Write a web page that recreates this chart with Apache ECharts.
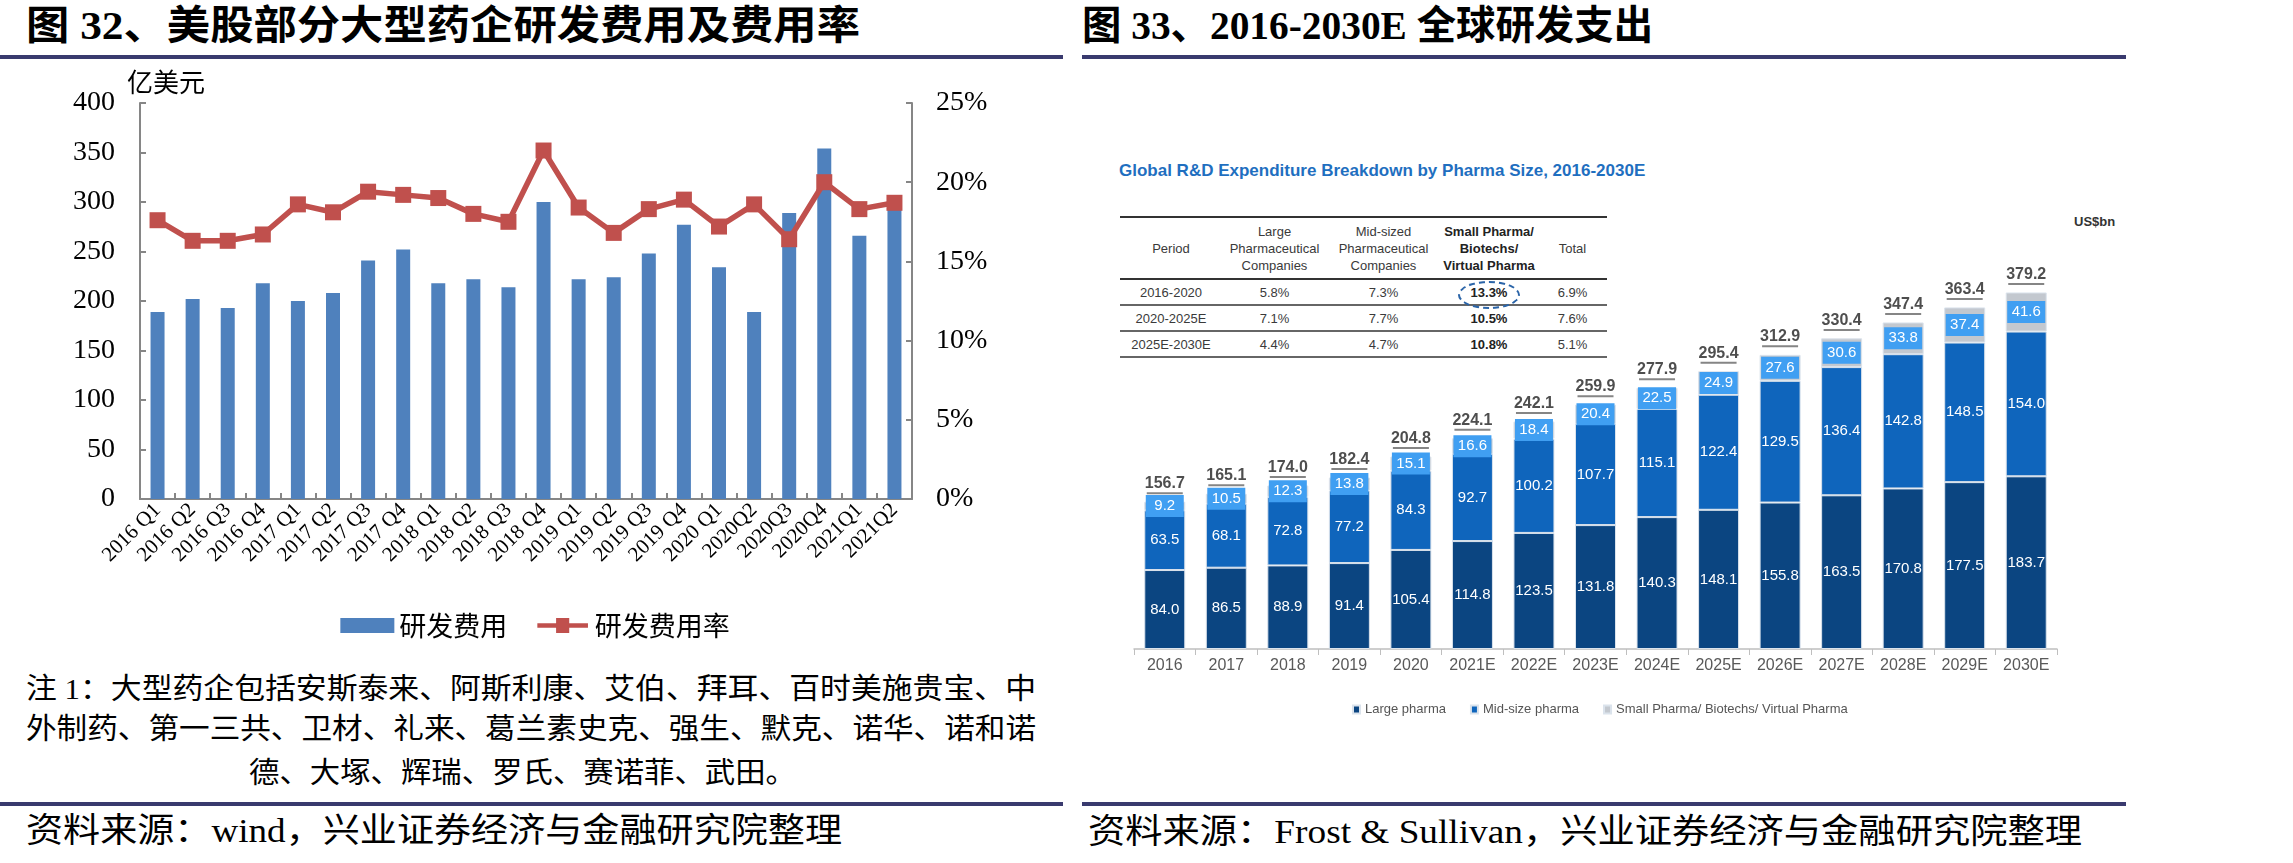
<!DOCTYPE html>
<html lang="zh-CN">
<head>
<meta charset="utf-8">
<title>研发费用</title>
<script src="https://cdn.jsdelivr.net/npm/echarts@6/dist/echarts.min.js"></script>
<style>
  html, body { margin: 0; padding: 0; background: #fff; }
  body { position: relative; width: 2293px; height: 863px; overflow: hidden; }
  .txt { position: absolute; white-space: nowrap; line-height: 1; transform-origin: 0 50%;
         font-family: "Liberation Serif", "Noto Sans CJK SC", serif; color: #000; }
  .ttl { font-size: 40px; font-weight: bold; }
  .note { font-size: 29px; }
  .src { font-size: 34px; }
  .rule { position: absolute; height: 4px; background: #393a6e; }
  #left { position: absolute; left: 0; top: 60px; width: 1070px; height: 600px; }
  #right { position: absolute; left: 1085px; top: 60px; width: 1208px; height: 740px; }
  .sans { font-family: "Liberation Sans", Arial, sans-serif; }
  #rtitle { position: absolute; left: 1119px; top: 161px; font-size: 17px; font-weight: bold; color: #1f6fc0; white-space: nowrap; }
  #unit { position: absolute; left: 2074px; top: 214px; font-size: 13px; font-weight: bold; color: #333; }
  #tbl { position: absolute; left: 1120px; top: 216px; width: 487px; border-collapse: collapse; table-layout: fixed;
         font-size: 13px; color: #3a3a3a; }
  #tbl th { font-weight: normal; line-height: 17px; height: 60px; border-top: 2px solid #333; border-bottom: 2px solid #333; padding: 0; }
  #tbl th.b, #tbl td.b { font-weight: bold; color: #222; }
  #tbl td { height: 24px; text-align: center; border-bottom: 2px solid #666; padding: 0; }
  #ring { position: absolute; left: 1458px; top: 281px; width: 58px; height: 24px; border: 2px dashed #2a64a8; border-radius: 50%; }
</style>
</head>
<body>
<div class="txt ttl" style="left:26px;top:6px" data-w="834">图 32、美股部分大型药企研发费用及费用率</div>
<div class="txt ttl" style="left:1082px;top:6px" data-w="571">图 33、2016-2030E 全球研发支出</div>
<div class="rule" style="left:0;top:55px;width:1063px"></div>
<div class="rule" style="left:1082px;top:55px;width:1044px"></div>

<div id="left"></div>

<div id="rtitle" class="sans">Global R&amp;D Expenditure Breakdown by Pharma Size, 2016-2030E</div>
<div id="unit" class="sans">US$bn</div>
<table id="tbl" class="sans">
  <colgroup><col style="width:102px"><col style="width:105px"><col style="width:113px"><col style="width:98px"><col style="width:69px"></colgroup>
  <thead><tr id="thead"></tr></thead>
  <tbody id="tbody"></tbody>
</table>
<div id="ring"></div>
<div id="right"></div>

<div class="txt note" style="left:26px;top:675px" data-w="1010">注 1：大型药企包括安斯泰来、阿斯利康、艾伯、拜耳、百时美施贵宝、中</div>
<div class="txt note" style="left:26px;top:715px" data-w="1010">外制药、第一三共、卫材、礼来、葛兰素史克、强生、默克、诺华、诺和诺</div>
<div class="txt note" style="left:249px;top:759px" data-w="547">德、大塚、辉瑞、罗氏、赛诺菲、武田。</div>

<div class="rule" style="left:0;top:802px;width:1063px"></div>
<div class="rule" style="left:1082px;top:802px;width:1044px"></div>
<div class="txt src" style="left:26px;top:814px" data-w="816">资料来源：wind，兴业证券经济与金融研究院整理</div>
<div class="txt src" style="left:1088px;top:815px" data-w="994">资料来源：Frost &amp; Sullivan，兴业证券经济与金融研究院整理</div>

<script>
// 图32 数据
const quarters = ['2016 Q1', '2016 Q2', '2016 Q3', '2016 Q4', '2017 Q1', '2017 Q2', '2017 Q3', '2017 Q4',
  '2018 Q1', '2018 Q2', '2018 Q3', '2018 Q4', '2019 Q1', '2019 Q2', '2019 Q3', '2019 Q4',
  '2020 Q1', '2020Q2', '2020Q3', '2020Q4', '2021Q1', '2021Q2'];
const rdSpend = [189, 202, 193, 218, 200, 208, 241, 252, 218, 222, 214, 300,
  222, 224, 248, 277, 234, 189, 289, 354, 266, 297];
const rdRatio = [17.6, 16.3, 16.3, 16.7, 18.6, 18.1, 19.4, 19.2, 19.0, 18.0, 17.5, 22.0,
  18.4, 16.8, 18.3, 18.9, 17.2, 18.6, 16.4, 20.0, 18.3, 18.7];

// 图33 数据
const years = ['2016', '2017', '2018', '2019', '2020', '2021E', '2022E', '2023E',
  '2024E', '2025E', '2026E', '2027E', '2028E', '2029E', '2030E'];
const largePharma = [84.0, 86.5, 88.9, 91.4, 105.4, 114.8, 123.5, 131.8, 140.3, 148.1, 155.8, 163.5, 170.8, 177.5, 183.7];
const midPharma = [63.5, 68.1, 72.8, 77.2, 84.3, 92.7, 100.2, 107.7, 115.1, 122.4, 129.5, 136.4, 142.8, 148.5, 154.0];
const smallPharma = [9.2, 10.5, 12.3, 13.8, 15.1, 16.6, 18.4, 20.4, 22.5, 24.9, 27.6, 30.6, 33.8, 37.4, 41.6];
const totalSpend = [156.7, 165.1, 174.0, 182.4, 204.8, 224.1, 242.1, 259.9, 277.9, 295.4, 312.9, 330.4, 347.4, 363.4, 379.2];

// CAGR table
const tableHead = ['Period', 'Large<br>Pharmaceutical<br>Companies', 'Mid-sized<br>Pharmaceutical<br>Companies',
  'Small Pharma/<br>Biotechs/<br>Virtual Pharma', 'Total'];
const periods = ['2016-2020', '2020-2025E', '2025E-2030E'];
const cagrLarge = ['5.8%', '7.1%', '4.4%'];
const cagrMid = ['7.3%', '7.7%', '4.7%'];
const cagrSmall = ['13.3%', '10.5%', '10.8%'];
const cagrTotal = ['6.9%', '7.6%', '5.1%'];

document.getElementById('thead').innerHTML = tableHead
  .map((h, i) => '<th' + (i === 3 ? ' class="b"' : '') + '>' + h + '</th>').join('');
document.getElementById('tbody').innerHTML = periods.map((p, i) =>
  '<tr><td>' + p + '</td><td>' + cagrLarge[i] + '</td><td>' + cagrMid[i] +
  '</td><td class="b">' + cagrSmall[i] + '</td><td>' + cagrTotal[i] + '</td></tr>').join('');

// stretch texts to the width they have in the original
document.querySelectorAll('.txt[data-w]').forEach(function (el) {
  var w = el.getBoundingClientRect().width;
  el.style.transform = 'scaleX(' + (el.dataset.w / w).toFixed(4) + ')';
});

const serif = "'Liberation Serif', 'Times New Roman', serif";
const cjk = "'Noto Sans CJK SC', sans-serif";
const narrow = "'Liberation Sans Narrow', 'Arial Narrow', 'Liberation Sans', sans-serif";
const axisGrey = '#868686';
// thick line with a square in the middle, as in the Excel legend
const lineIcon = 'path://M0,5.5L20,5.5L20,0L34,0L34,5.5L54,5.5L54,10.5L34,10.5L34,16L20,16L20,10.5L0,10.5Z';

var leftChart = echarts.init(document.getElementById('left'));
leftChart.setOption({
  animation: false,
  grid: { left: 140, right: 158, top: 43, bottom: 161 },
  legend: {
    top: 547,
    left: 'center',
    itemWidth: 54,
    itemHeight: 15,
    itemGap: 30,
    textStyle: { fontSize: 27, fontFamily: cjk, color: '#000' },
    data: [{ name: '研发费用', icon: 'rect' }, { name: '研发费用率', icon: lineIcon }]
  },
  graphic: [{
    type: 'text', left: 127, top: 9,
    style: { text: '亿美元', font: "26px 'Noto Sans CJK SC'", fill: '#000' }
  }],
  xAxis: {
    type: 'category',
    data: quarters,
    axisLine: { lineStyle: { color: axisGrey, width: 2 } },
    axisTick: { show: true, inside: true, length: 6, lineStyle: { color: axisGrey, width: 2 } },
    axisLabel: { interval: 0, rotate: 45, fontSize: 21, fontFamily: serif, color: '#000', margin: 8 }
  },
  yAxis: [
    {
      type: 'value', min: 0, max: 400, interval: 50,
      splitLine: { show: false },
      axisLine: { show: true, lineStyle: { color: axisGrey, width: 2 } },
      axisTick: { show: true, inside: true, length: 6, lineStyle: { color: axisGrey, width: 2 } },
      axisLabel: { fontSize: 28, fontFamily: serif, color: '#000', margin: 25 }
    },
    {
      type: 'value', min: 0, max: 25, interval: 5, position: 'right',
      splitLine: { show: false },
      axisLine: { show: true, lineStyle: { color: axisGrey, width: 2 } },
      axisTick: { show: true, inside: true, length: 6, lineStyle: { color: axisGrey, width: 2 } },
      axisLabel: { formatter: '{value}%', fontSize: 28, fontFamily: serif, color: '#000', margin: 24 }
    }
  ],
  series: [
    {
      name: '研发费用', type: 'bar', data: rdSpend, barWidth: 14,
      itemStyle: { color: '#4f81bd' }
    },
    {
      name: '研发费用率', type: 'line', yAxisIndex: 1, data: rdRatio,
      symbol: 'rect', symbolSize: 16,
      lineStyle: { width: 5.5, color: '#c0504d' },
      itemStyle: { color: '#c0504d' }
    }
  ]
});

var rightChart = echarts.init(document.getElementById('right'));
const segBorder = { borderColor: '#dbe3ec', borderWidth: 1 };
rightChart.setOption({
  animation: false,
  grid: { left: 49, right: 236, top: 213, bottom: 151 },
  legend: {
    left: 262,
    top: 638,
    icon: 'rect',
    itemWidth: 7,
    itemHeight: 8,
    itemGap: 24,
    textStyle: { fontSize: 13, fontFamily: "'Liberation Sans', Arial, sans-serif", color: '#555' },
    data: ['Large pharma', 'Mid-size pharma', 'Small Pharma/ Biotechs/ Virtual Pharma']
  },
  xAxis: {
    type: 'category',
    data: years,
    axisLine: { lineStyle: { color: '#bfbfbf', width: 1.5 } },
    axisTick: { show: true, length: 6, lineStyle: { color: '#bfbfbf' } },
    axisLabel: { color: '#595959', fontSize: 16, fontFamily: narrow, margin: 9 }
  },
  yAxis: { type: 'value', min: 0, max: 400, show: false },
  series: [
    {
      name: 'Large pharma', type: 'bar', stack: 'rd', data: largePharma, barWidth: 41,
      itemStyle: Object.assign({ color: '#0b4581' }, segBorder),
      label: { show: true, position: 'inside', color: '#fff', fontSize: 15, fontFamily: narrow,
        formatter: p => p.value.toFixed(1) }
    },
    {
      name: 'Mid-size pharma', type: 'bar', stack: 'rd', data: midPharma,
      itemStyle: Object.assign({ color: '#0f65bc' }, segBorder),
      label: { show: true, position: 'inside', color: '#fff', fontSize: 15, fontFamily: narrow,
        formatter: p => p.value.toFixed(1) }
    },
    {
      name: 'Small Pharma/ Biotechs/ Virtual Pharma', type: 'bar', stack: 'rd', data: smallPharma,
      itemStyle: Object.assign({ color: '#c3c8cf' }, segBorder),
      label: {
        show: true, position: 'inside', color: '#fff', fontSize: 15, fontFamily: narrow,
        backgroundColor: '#409ff2', width: 38, height: 22, lineHeight: 22, align: 'center',
        formatter: p => p.value.toFixed(1)
      }
    },
    {
      name: 'total', type: 'scatter', data: totalSpend, symbolSize: 1,
      itemStyle: { color: 'transparent' },
      label: {
        show: true, position: 'top', distance: 7,
        formatter: p => '{t|' + p.value.toFixed(1) + '}\n{u|}',
        rich: {
          t: { fontSize: 16, fontWeight: 'bold', fontFamily: narrow, color: '#222', lineHeight: 17, align: 'center' },
          u: { width: 36, height: 2, lineHeight: 2, backgroundColor: '#666', align: 'center' }
        }
      }
    }
  ]
});
</script>
</body>
</html>
